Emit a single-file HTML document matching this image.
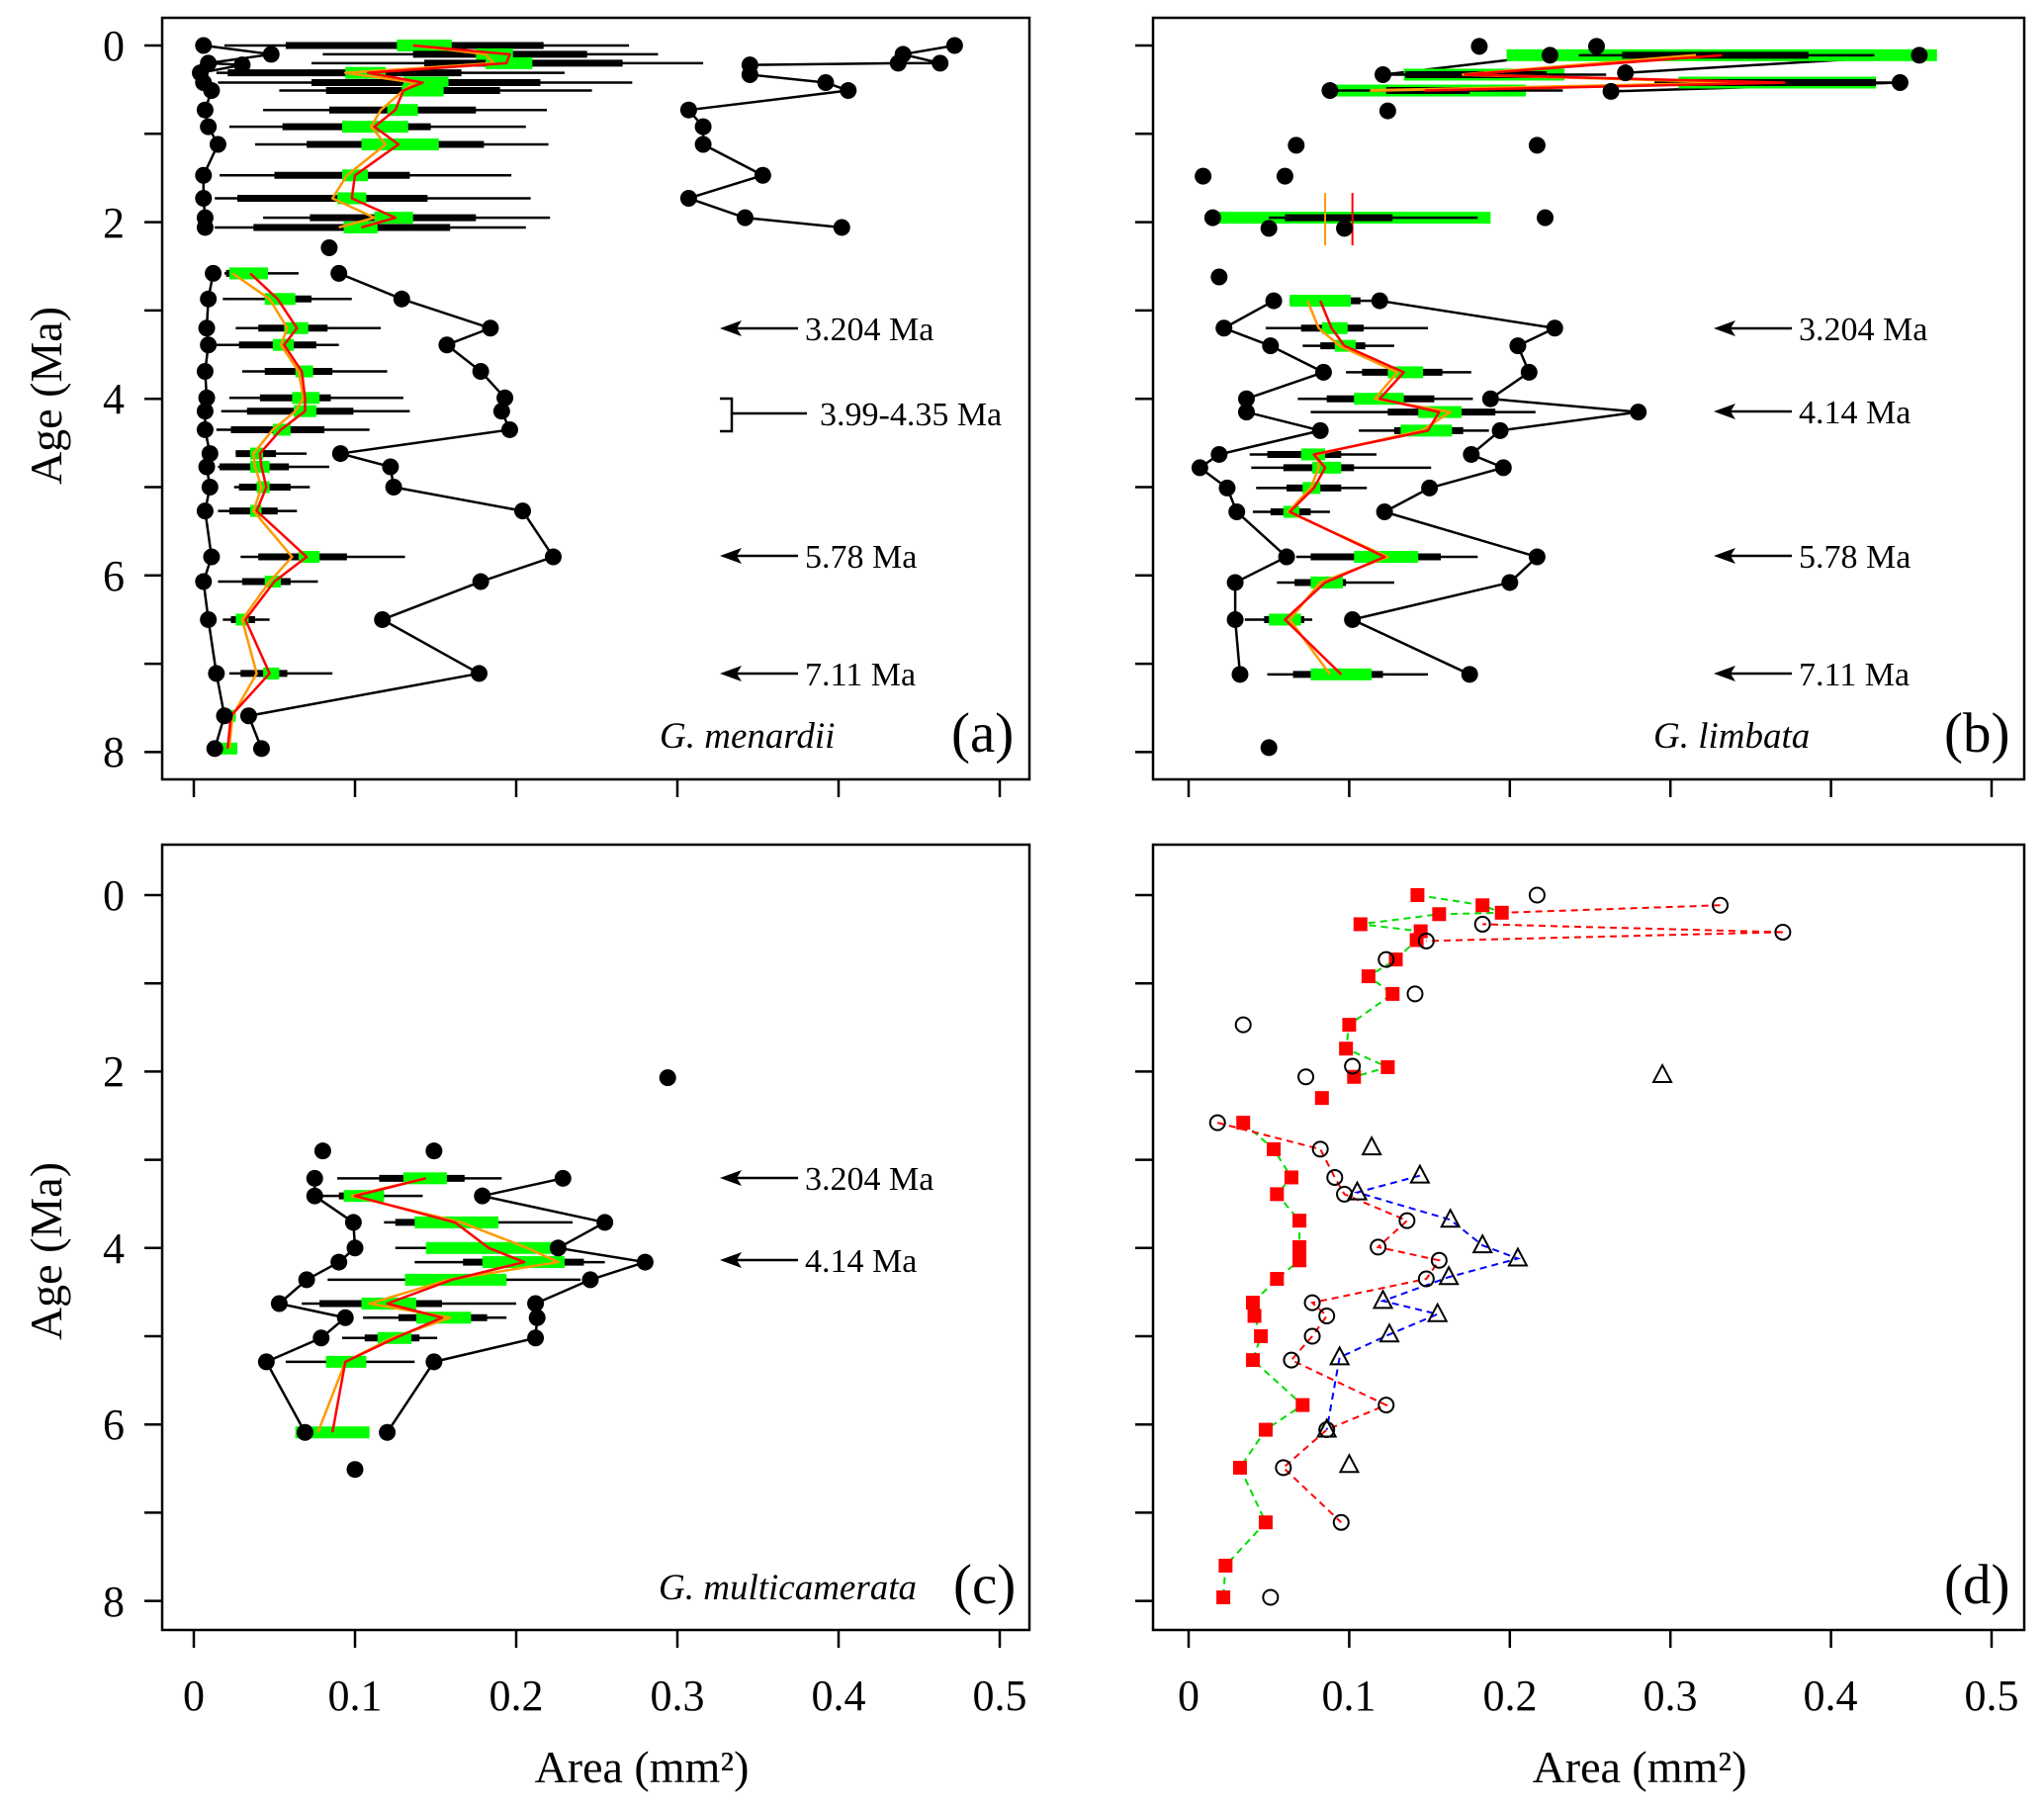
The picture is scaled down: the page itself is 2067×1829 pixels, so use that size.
<!DOCTYPE html>
<html><head><meta charset="utf-8"><title>Test area by age</title>
<style>
html,body{margin:0;padding:0;background:#fff;}
svg{display:block;font-family:"Liberation Serif",serif;}
svg text{font-family:"Liberation Serif",serif;}
</style></head>
<body>
<svg id="fig" width="2067" height="1829" viewBox="0 0 2067 1829" xmlns="http://www.w3.org/2000/svg" font-family="Liberation Serif, serif">
<rect x="0" y="0" width="2067" height="1829" fill="#fff"/>
<g id="marks"></g>
<!-- frames -->
<rect x="164" y="18" width="877" height="770" fill="none" stroke="#000" stroke-width="2.5"/>
<rect x="1166" y="18" width="881" height="770" fill="none" stroke="#000" stroke-width="2.5"/>
<rect x="164" y="854" width="877" height="794" fill="none" stroke="#000" stroke-width="2.5"/>
<rect x="1166" y="854" width="881" height="794" fill="none" stroke="#000" stroke-width="2.5"/>
<g font-size="44" text-anchor="end">
<text x="126" y="61">0</text><text x="126" y="240">2</text><text x="126" y="418">4</text><text x="126" y="597">6</text><text x="126" y="775">8</text>
</g>
<g font-size="44" text-anchor="end">
<text x="126" y="920">0</text><text x="126" y="1098">2</text><text x="126" y="1277">4</text><text x="126" y="1455">6</text><text x="126" y="1634">8</text>
</g>
<g font-size="44" text-anchor="middle">
<text x="196" y="1729">0</text><text x="359" y="1729">0.1</text><text x="522" y="1729">0.2</text><text x="685" y="1729">0.3</text><text x="848" y="1729">0.4</text><text x="1011" y="1729">0.5</text>
</g>
<g font-size="44" text-anchor="middle">
<text x="1202" y="1729">0</text><text x="1364" y="1729">0.1</text><text x="1527" y="1729">0.2</text><text x="1689" y="1729">0.3</text><text x="1851" y="1729">0.4</text><text x="2014" y="1729">0.5</text>
</g>
<text x="649" y="1802" font-size="46" text-anchor="middle">Area (mm²)</text>
<text x="1658" y="1802" font-size="46" text-anchor="middle">Area (mm²)</text>
<text transform="translate(62,400) rotate(-90)" font-size="46" text-anchor="middle">Age (Ma)</text>
<text transform="translate(62,1265) rotate(-90)" font-size="46" text-anchor="middle">Age (Ma)</text>
<!-- annotations a -->
<g font-size="34">
<g><line x1="807" y1="332" x2="740" y2="332" stroke="#000" stroke-width="2.5"/><polygon points="728,332 750,324 745,332 750,340" fill="#000"/></g>
<text x="814" y="344">3.204 Ma</text>
<path d="M728,403 H740 V436 H728 M740,418 H816" fill="none" stroke="#000" stroke-width="2.5"/>
<text x="829" y="430">3.99-4.35 Ma</text>
<g><line x1="807" y1="562" x2="740" y2="562" stroke="#000" stroke-width="2.5"/><polygon points="728,562 750,554 745,562 750,570" fill="#000"/></g>
<text x="814" y="574">5.78 Ma</text>
<g><line x1="807" y1="681" x2="740" y2="681" stroke="#000" stroke-width="2.5"/><polygon points="728,681 750,673 745,681 750,689" fill="#000"/></g>
<text x="814" y="693">7.11 Ma</text>
<text x="667" y="756" font-style="italic" font-size="37">G. menardii</text>
<text x="962" y="760" font-size="57">(a)</text>
</g>
<g font-size="34">
<g><line x1="1812" y1="332" x2="1745" y2="332" stroke="#000" stroke-width="2.5"/><polygon points="1733,332 1755,324 1750,332 1755,340" fill="#000"/></g>
<text x="1819" y="344">3.204 Ma</text>
<g><line x1="1812" y1="416" x2="1745" y2="416" stroke="#000" stroke-width="2.5"/><polygon points="1733,416 1755,408 1750,416 1755,424" fill="#000"/></g>
<text x="1819" y="428">4.14 Ma</text>
<g><line x1="1812" y1="562" x2="1745" y2="562" stroke="#000" stroke-width="2.5"/><polygon points="1733,562 1755,554 1750,562 1755,570" fill="#000"/></g>
<text x="1819" y="574">5.78 Ma</text>
<g><line x1="1812" y1="681" x2="1745" y2="681" stroke="#000" stroke-width="2.5"/><polygon points="1733,681 1755,673 1750,681 1755,689" fill="#000"/></g>
<text x="1819" y="693">7.11 Ma</text>
<text x="1672" y="756" font-style="italic" font-size="37">G. limbata</text>
<text x="1966" y="760" font-size="57">(b)</text>
</g>
<g font-size="34">
<g><line x1="807" y1="1191" x2="740" y2="1191" stroke="#000" stroke-width="2.5"/><polygon points="728,1191 750,1183 745,1191 750,1199" fill="#000"/></g>
<text x="814" y="1203">3.204 Ma</text>
<g><line x1="807" y1="1274" x2="740" y2="1274" stroke="#000" stroke-width="2.5"/><polygon points="728,1274 750,1266 745,1274 750,1282" fill="#000"/></g>
<text x="814" y="1286">4.14 Ma</text>
<text x="666" y="1617" font-style="italic" font-size="37">G. multicamerata</text>
<text x="964" y="1621" font-size="57">(c)</text>
</g>
<text x="1966" y="1621" font-size="57">(d)</text>
</svg>
<script>
// ---------- Panel (a) G. menardii ----------
const aBoxAge = [0,0.1,0.2,0.31,0.42,0.51,0.73,0.92,1.12,1.47,1.73,1.95,2.06, 2.58,2.87,3.2,3.39,3.69,3.99,4.14,4.35,4.62,4.77,5.0,5.27,5.79,6.07,6.5,7.11,7.59,7.96];
const aWhLo = [.019,.08,.073,.014,.015,.053,.043,.022,.038,.016,.013,.043,.013, .019,.018,.026,.014,.03,.022,.017,.014,.026,.015,.025,.015,.029,.015,.018,.022,.019,.017];
const aQ1   = [.057,.136,.143,.021,.073,.082,.084,.055,.07,.05,.027,.072,.037, .02,.045,.04,.028,.044,.041,.033,.023,.026,.016,.028,.022,.04,.03,.023,.029,.019,.017];
const aQ3   = [.217,.244,.266,.166,.215,.19,.175,.147,.18,.134,.145,.175,.159, .035,.073,.083,.076,.086,.085,.099,.081,.051,.059,.06,.052,.095,.06,.038,.058,.026,.027];
const aWhHi = [.27,.288,.316,.23,.272,.247,.219,.206,.22,.197,.209,.221,.206, .065,.098,.116,.09,.12,.13,.134,.109,.07,.084,.072,.064,.131,.077,.047,.086,.026,.027];
const aGLo  = [.126,.175,.181,.094,.13,.129,.12,.092,.104,.092,.089,.112,.093, .022,.044,.056,.049,.063,.061,.062,.049,.035,.035,.039,.035,.065,.044,.026,.043,.019,.017];
const aGHi  = [.16,.198,.21,.119,.158,.155,.139,.133,.152,.108,.107,.136,.114, .046,.063,.071,.062,.074,.078,.076,.06,.043,.047,.047,.042,.078,.054,.034,.053,.026,.027];
const aRed    = [.136,.196,.194,.108,.142,.13,.125,.112,.127,.1,.098,.125,.104, .035,.052,.064,.056,.067,.069,.069,.054,.041,.042,.045,.039,.07,.05,.032,.047,.023,.021];
const aOrange = [.136,.181,.186,.094,.137,.13,.116,.11,.119,.095,.086,.112,.09, .024,.047,.058,.054,.065,.068,.063,.049,.037,.038,.042,.037,.061,.047,.03,.039,.024,.022];
const aMinAge = [0,0.1,0.2,0.22,0.31,0.42,0.51,0.73,0.92,1.12,1.47,1.73,1.95,2.06, 2.58,2.87,3.2,3.39,3.69,3.99,4.14,4.35,4.62,4.77,5.0,5.27,5.79,6.07,6.5,7.11,7.59,7.96];
const aMinVal = [.006,.048,.009,.03,.004,.006,.011,.007,.009,.015,.006,.006,.007,.007, .012,.009,.008,.009,.007,.008,.007,.007,.01,.008,.01,.007,.011,.006,.009,.014,.019,.013];
const aMaxAge = [0,0.1,0.2,0.2,0.22,0.33,0.42,0.51,0.73,0.92,1.12,1.47,1.73,1.95,2.06, 2.58,2.87,3.2,3.39,3.69,3.99,4.14,4.35,4.62,4.77,5.0,5.27,5.79,6.07,6.5,7.11,7.59,7.96];
const aMaxVal = [.472,.44,.463,.437,.345,.345,.392,.406,.307,.316,.316,.353,.307,.342,.402, .09,.129,.184,.157,.178,.193,.191,.196,.091,.122,.124,.204,.223,.178,.117,.177,.034,.042];
const aExtraAge = [2.29];
const aExtraVal = [.084];

// ---------- Panel (b) G. limbata ----------
const bBoxAge = [0.11,0.33,0.42,0.51,1.95, 2.89,3.2,3.4,3.7,4.0,4.15,4.36,4.63,4.78,5.01,5.28,5.79,6.08,6.5,7.12];
const bWhLo = [.243,.124,.29,.09,.05, .063,.048,.071,.098,.068,.076,.106,.038,.039,.042,.04,.067,.055,.035,.049];
const bQ1   = [.27,.135,.296,.123,.06, .063,.07,.082,.108,.086,.124,.128,.049,.059,.061,.051,.076,.066,.047,.065];
const bQ3   = [.386,.223,.428,.175,.127, .107,.109,.11,.158,.153,.191,.171,.095,.103,.095,.076,.157,.098,.072,.121];
const bWhHi = [.427,.26,.44,.233,.18, .115,.149,.128,.176,.177,.216,.187,.117,.151,.111,.088,.18,.128,.077,.149];
const bGLo  = [.198,.134,.305,.09,.015, .063,.083,.091,.124,.103,.143,.132,.07,.077,.071,.059,.103,.076,.05,.076];
const bGHi  = [.466,.234,.428,.21,.188, .101,.099,.104,.146,.134,.17,.164,.085,.095,.082,.069,.143,.096,.07,.114];
const bLineAgeU = [0.11,0.33,0.42,0.51];
const bRedU     = [.332,.172,.371,.147];
const bOrangeU  = [.316,.171,.352,.113];
const bVertAge  = [1.95];
const bRedV     = [.102];
const bOrangeV  = [.085];
const bLineAgeL = [2.89,3.2,3.4,3.7,4.0,4.15,4.36,4.63,4.78,5.01,5.28,5.79,6.08,6.5,7.12];
const bRedL     = [.082,.089,.097,.134,.119,.156,.149,.078,.085,.078,.063,.122,.085,.06,.095];
const bOrangeL  = [.074,.081,.094,.13,.116,.163,.145,.08,.081,.076,.062,.124,.082,.063,.088];
const bMinAge = [2.89,3.2,3.4,3.7,4.0,4.15,4.36,4.63,4.78,5.01,5.28,5.79,6.08,6.5,7.12];
const bMinVal = [.053,.022,.051,.084,.036,.036,.082,.019,.007,.024,.03,.061,.029,.029,.032];
const bMaxAge = [2.89,3.2,3.4,3.7,4.0,4.15,4.36,4.63,4.78,5.01,5.28,5.79,6.08,6.5,7.12];
const bMaxVal = [.119,.228,.205,.212,.188,.28,.194,.176,.196,.15,.122,.217,.2,.102,.175];
const bDotAge = [0.01,0.01,0.11,0.11,0.33,0.31,0.42,0.51,0.52,0.74,1.13,1.13,1.48,1.48,1.95,1.95,2.07,2.07,2.62,7.95];
const bDotVal = [.181,.254,.225,.455,.121,.272,.443,.088,.263,.124,.067,.217,.009,.06,.015,.222,.05,.097,.019,.05];
const bLinkAge1 = [0.11,0.31,0.52];
const bLinkVal1 = [.225,.272,.263];
const bLinkAge2 = [0.33,0.11,0.42];
const bLinkVal2 = [.121,.455,.443];

// ---------- Panel (c) G. multicamerata ----------
const cBoxAge = [3.21,3.41,3.71,4.0,4.16,4.36,4.63,4.79,5.02,5.29,6.09];
const cWhLo = [.089,.078,.118,.125,.137,.083,.067,.105,.092,.057,.075];
const cQ1   = [.115,.09,.125,.162,.167,.131,.078,.127,.106,.082,.075];
const cQ3   = [.168,.118,.14,.212,.242,.194,.154,.182,.14,.107,.088];
const cWhHi = [.191,.142,.235,.219,.255,.24,.2,.194,.151,.137,.107];
const cGLo  = [.13,.093,.137,.144,.179,.131,.104,.138,.114,.082,.063];
const cGHi  = [.157,.118,.189,.223,.23,.194,.138,.172,.135,.107,.109];
const cLineAge = [3.21,3.41,3.71,4.0,4.16,4.36,4.63,4.79,5.02,5.29,6.09];
const cRed     = [.144,.1,.162,.183,.205,.16,.12,.154,.125,.094,.086];
const cOrange  = [.144,.098,.166,.207,.226,.158,.109,.159,.123,.094,.077];
const cMinAge = [3.21,3.41,3.71,4.0,4.16,4.36,4.63,4.79,5.02,5.29,6.09];
const cMinVal = [.075,.075,.099,.1,.09,.07,.053,.094,.079,.045,.069];
const cMaxAge = [3.21,3.41,3.71,4.0,4.16,4.36,4.63,4.79,5.02,5.29,6.09];
const cMaxVal = [.229,.179,.255,.226,.28,.246,.212,.213,.212,.149,.12];
const cDotAge = [2.07,2.9,2.9,6.51];
const cDotVal = [.294,.08,.149,.1];

// ---------- Panel (d) comparison ----------
const dSqAge = [0,0.115,0.2,0.216,0.33,0.41,0.51,0.73,0.92,1.12,1.47,1.74,1.95,2.06,2.3,2.58,2.88,3.2,3.39,3.69,3.99,4.14,4.35,4.62,4.77,5.0,5.27,5.78,6.06,6.49,7.11,7.6,7.96];
const dSqVal = [.1425,.183,.195,.156,.107,.1445,.142,.129,.112,.127,.1,.098,.124,.103,.083,.034,.053,.064,.055,.069,.069,.069,.055,.04,.041,.045,.04,.071,.048,.032,.048,.023,.0216];
const dCircAge = [0,0.115,0.33,0.42,0.52,0.73,1.12,1.47,1.94,2.06,2.58,2.88,3.2,3.39,3.69,3.99,4.14,4.35,4.62,4.77,5.0,5.27,5.78,6.06,6.49,7.11,7.96];
const dCircVal = [.217,.331,.183,.37,.148,.123,.141,.034,.102,.073,.018,.082,.091,.097,.136,.118,.156,.148,.077,.086,.077,.064,.123,.086,.059,.095,.051];
const dTriAge = [2.04,2.86,3.18,3.37,3.68,3.97,4.12,4.33,4.6,4.75,4.98,5.24,6.06,6.46];
const dTriVal = [.295,.114,.144,.105,.163,.183,.205,.162,.121,.155,.125,.094,.086,.1];

// ---------- axes ----------
const xA = v => 196 + v * 1630;
const xB = v => 1202 + v * 1624;
const yTop = a => 46 + a * 89.3;
const yBot = a => 905 + a * 89.2;
const BREAK_AGE = 2.3; // gap between the two sample intervals in panel a

const NS = 'http://www.w3.org/2000/svg';
const root = document.getElementById('marks');
function mk(tag, attrs) {
  const el = document.createElementNS(NS, tag);
  for (const k in attrs) el.setAttribute(k, attrs[k]);
  root.appendChild(el);
  return el;
}

function ticks(xf, yf, left, bottom) {
  for (let a = 0; a <= 8; a++) {
    const t = mk('line', {x1: left - 18, x2: left, y1: yf(a), y2: yf(a), stroke: '#000', 'stroke-width': 2.5});
    
    
  }
  for (let i = 0; i <= 5; i++) {
    const t = mk('line', {x1: xf(i / 10), x2: xf(i / 10), y1: bottom, y2: bottom + 18, stroke: '#000', 'stroke-width': 2.5});
    
    
  }
}
ticks(xA, yTop, 164, 788);
ticks(xB, yTop, 1166, 788);
ticks(xA, yBot, 164, 1648);
ticks(xB, yBot, 1166, 1648);

// split polyline only where it crosses the break age
function polySegs(ages, vals, xf, yf, brk, attrs, name) {
  let seg = [];
  const flush = () => {
    if (seg.length > 1) {
      const p = mk('polyline', Object.assign({points: seg.join(' '), fill: 'none', 'stroke-linejoin': 'round'}, attrs));
      
      
    }
    seg = [];
  };
  for (let i = 0; i < ages.length; i++) {
    if (i > 0 && ages[i - 1] < brk && ages[i] >= brk) flush();
    seg.push(xf(vals[i]) + ',' + yf(ages[i]));
  }
  flush();
}
function dots(ages, vals, xf, yf, name) {
  for (let i = 0; i < ages.length; i++) {
    const c = mk('circle', {cx: xf(vals[i]), cy: yf(ages[i]), r: 8.5, fill: '#000'});
    
    
  }
}
function boxes(ages, wl, q1, q3, wh, gl, gh, xf, yf, greenFirstCount, prefix) {
  for (let i = 0; i < ages.length; i++) {
    const y = yf(ages[i]);
    const greenFirst = i < greenFirstCount;
    const drawGreen = () => {
      const g = mk('rect', {x: xf(gl[i]), y: y - 6, width: Math.max(2, xf(gh[i]) - xf(gl[i])), height: 12, fill: '#00ff00'});
      
      
    };
    if (greenFirst) drawGreen();
    const w = mk('line', {x1: xf(wl[i]), x2: xf(wh[i]), y1: y, y2: y, stroke: '#000', 'stroke-width': 2.5});
    
    
    const q = mk('line', {x1: xf(q1[i]), x2: xf(q3[i]), y1: y, y2: y, stroke: '#000', 'stroke-width': 7});
    
    
    if (!greenFirst) drawGreen();
  }
}

// Panel a
polySegs(aMinAge, aMinVal, xA, yTop, BREAK_AGE, {stroke: '#000', 'stroke-width': 2.5}, 'a-min-line');
polySegs(aMaxAge, aMaxVal, xA, yTop, BREAK_AGE, {stroke: '#000', 'stroke-width': 2.5}, 'a-max-line');
boxes(aBoxAge, aWhLo, aQ1, aQ3, aWhHi, aGLo, aGHi, xA, yTop, 0, 'a');
polySegs(aBoxAge, aOrange, xA, yTop, BREAK_AGE, {stroke: '#ff9900', 'stroke-width': 2.5}, 'a-median-line');
polySegs(aBoxAge, aRed, xA, yTop, BREAK_AGE, {stroke: '#ff0000', 'stroke-width': 2.5}, 'a-mean-line');
dots(aMinAge, aMinVal, xA, yTop, 'a-min-point');
dots(aMaxAge, aMaxVal, xA, yTop, 'a-max-point');
dots(aExtraAge, aExtraVal, xA, yTop, 'a-extra-point');

// Panel b
for (let i = 0; i < bLinkAge1.length; i++) {
  const l = mk('line', {x1: xB(bLinkVal1[i]), y1: yTop(bLinkAge1[i]), x2: xB(bLinkVal2[i]), y2: yTop(bLinkAge2[i]), stroke: '#000', 'stroke-width': 2.5});
  
  
}
polySegs(bMinAge, bMinVal, xB, yTop, 99, {stroke: '#000', 'stroke-width': 2.5}, 'b-min-line');
polySegs(bMaxAge, bMaxVal, xB, yTop, 99, {stroke: '#000', 'stroke-width': 2.5}, 'b-max-line');
boxes(bBoxAge, bWhLo, bQ1, bQ3, bWhHi, bGLo, bGHi, xB, yTop, 5, 'b');
polySegs(bLineAgeU, bOrangeU, xB, yTop, 99, {stroke: '#ff9900', 'stroke-width': 3}, 'b-median-line-upper');
polySegs(bLineAgeU, bRedU, xB, yTop, 99, {stroke: '#ff0000', 'stroke-width': 2.5}, 'b-mean-line-upper');
polySegs(bLineAgeL, bOrangeL, xB, yTop, 99, {stroke: '#ff9900', 'stroke-width': 2.5}, 'b-median-line');
polySegs(bLineAgeL, bRedL, xB, yTop, 99, {stroke: '#ff0000', 'stroke-width': 2.5}, 'b-mean-line');
for (let i = 0; i < bVertAge.length; i++) {
  const o = mk('line', {x1: xB(bOrangeV[i]), x2: xB(bOrangeV[i]), y1: yTop(bVertAge[i]) - 25, y2: yTop(bVertAge[i]) + 28, stroke: '#ff9900', 'stroke-width': 2});
  
  
  const r = mk('line', {x1: xB(bRedV[i]), x2: xB(bRedV[i]), y1: yTop(bVertAge[i]) - 25, y2: yTop(bVertAge[i]) + 28, stroke: '#ff0000', 'stroke-width': 2});
  
  
}
dots(bMinAge, bMinVal, xB, yTop, 'b-min-point');
dots(bMaxAge, bMaxVal, xB, yTop, 'b-max-point');
dots(bDotAge, bDotVal, xB, yTop, 'b-point');

// Panel c
polySegs(cMinAge, cMinVal, xA, yBot, 99, {stroke: '#000', 'stroke-width': 2.5}, 'c-min-line');
polySegs(cMaxAge, cMaxVal, xA, yBot, 99, {stroke: '#000', 'stroke-width': 2.5}, 'c-max-line');
boxes(cBoxAge, cWhLo, cQ1, cQ3, cWhHi, cGLo, cGHi, xA, yBot, 0, 'c');
polySegs(cLineAge, cOrange, xA, yBot, 99, {stroke: '#ff9900', 'stroke-width': 2.5}, 'c-median-line');
polySegs(cLineAge, cRed, xA, yBot, 99, {stroke: '#ff0000', 'stroke-width': 2.5}, 'c-mean-line');
dots(cMinAge, cMinVal, xA, yBot, 'c-min-point');
dots(cMaxAge, cMaxVal, xA, yBot, 'c-max-point');
dots(cDotAge, cDotVal, xA, yBot, 'c-point');

// Panel d
function dashed(ages, vals, i0, i1, color, name) {
  const pts = [];
  for (let i = i0; i <= i1; i++) pts.push(xB(vals[i]) + ',' + yBot(ages[i]));
  const p = mk('polyline', {points: pts.join(' '), fill: 'none', stroke: color, 'stroke-width': 2, 'stroke-dasharray': '7,5'});
  
  
}
function link(a1, v1, a2, v2, color) {
  const l = mk('line', {x1: xB(v1), y1: yBot(a1), x2: xB(v2), y2: yBot(a2), stroke: color, 'stroke-width': 2, 'stroke-dasharray': '7,5'});
  
  
}
dashed(dSqAge, dSqVal, 0, 13, '#00dd00', 'd-menardii-line');
dashed(dSqAge, dSqVal, 15, 32, '#00dd00', 'd-menardii-line');
dashed(dCircAge, dCircVal, 10, 25, '#ff0000', 'd-limbata-line');
link(dCircAge[1], dCircVal[1], dSqAge[2], dSqVal[2], '#ff0000');
link(dCircAge[3], dCircVal[3], dCircAge[2], dCircVal[2], '#ff0000');
link(dCircAge[3], dCircVal[3], dCircAge[4], dCircVal[4], '#ff0000');
dashed(dTriAge, dTriVal, 2, 12, '#0000ff', 'd-multicamerata-line');
for (let i = 0; i < dSqAge.length; i++) {
  const s = mk('rect', {x: xB(dSqVal[i]) - 7, y: yBot(dSqAge[i]) - 7, width: 14, height: 14, fill: '#ff0000'});
  
  
}
for (let i = 0; i < dCircAge.length; i++) {
  const c = mk('circle', {cx: xB(dCircVal[i]), cy: yBot(dCircAge[i]), r: 7.5, fill: 'none', stroke: '#000', 'stroke-width': 2});
  
  
}
for (let i = 0; i < dTriAge.length; i++) {
  const x = xB(dTriVal[i]), y = yBot(dTriAge[i]);
  const t = mk('polygon', {points: (x - 9) + ',' + (y + 7) + ' ' + (x + 9) + ',' + (y + 7) + ' ' + x + ',' + (y - 10), fill: 'none', stroke: '#000', 'stroke-width': 2});
  
  
}
</script>
</body></html>
